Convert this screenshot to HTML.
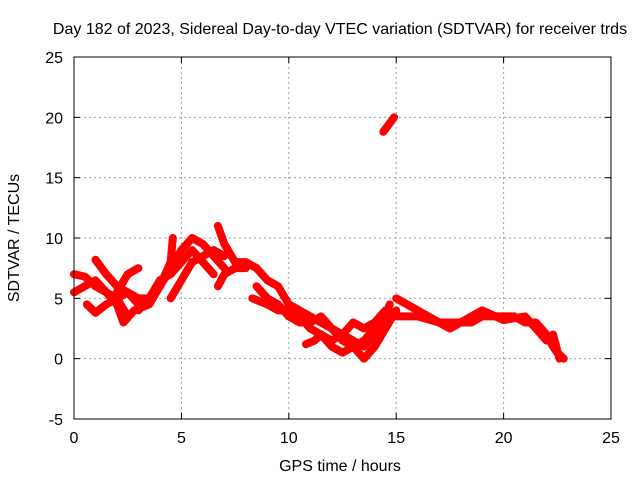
<!DOCTYPE html>
<html><head><meta charset="utf-8"><style>
body{margin:0;background:#fff}
svg text{font-family:"Liberation Sans",sans-serif;font-size:16px;fill:#000}
</style></head><body>
<svg width="640" height="480" id="c">
<rect width="640" height="480" fill="#fff"/>
<text x="340" y="34" text-anchor="middle">Day 182 of 2023, Sidereal Day-to-day VTEC variation (SDTVAR) for receiver trds</text>
<text x="340" y="471" text-anchor="middle">GPS time / hours</text>
<text transform="translate(19,238) rotate(-90)" text-anchor="middle">SDTVAR / TECUs</text>
<g id="grid"></g><g id="ticks"></g><g id="marks"></g>
<rect x="74" y="57" width="537" height="362" fill="none" stroke="#000" stroke-width="1"/>
</svg>
<script>
const xTicks=[0,5,10,15,20,25];
const yTicks=[-5,0,5,10,15,20,25];
const tracks=[
[[0,7],[0.5,6.8],[1,6],[1.5,5.5],[2,4.5],[2.3,3],[2.8,4],[3.5,4.5],[4,6],[4.5,8],[4.6,10]],
[[0,5.5],[0.5,6],[1,6.5],[1.5,5.5],[2,5],[2.5,5.5],[3,5],[3.5,5],[4,6.5],[4.5,7],[5,8],[5.5,9],[6,8],[6.5,7]],
[[1,8.2],[1.5,7],[2,6],[2.5,5.5],[3,4.5]],
[[2,5.5],[2.5,7],[3,7.5]],
[[0.6,4.5],[1,3.8],[1.5,4.5],[2,5],[2.5,3.5]],
[[3,4],[3.5,5],[4,6],[4.5,7.5],[5,9],[5.5,10],[6,9.5],[6.5,8.5],[7,7.5]],
[[4.5,5],[5,6.5],[5.5,8],[6,8.5],[6.5,9],[7,8.5]],
[[6.7,11],[7,9.5],[7.5,8],[8,8],[8.5,7.5],[9,6.5],[9.5,6],[10,4.5],[10.5,4],[11,3.5],[11.5,3],[12,2.5],[12.5,2],[13,1.5],[13.5,1],[14,2],[14.5,3.5],[14.7,4.5]],
[[6.7,6],[7,7],[7.5,7.5],[8,7.5]],
[[8.5,6],[9,5],[9.5,4.5],[10,3.5],[10.5,3],[11,3],[11.5,3.5],[12,2.5],[12.5,1.5],[13,1],[13.5,0],[14,1],[14.5,2.5],[15,4]],
[[8.3,5],[9,4.5],[9.5,4],[10,4],[10.5,3.5],[11,2.5],[11.5,2],[12,1],[12.5,0.5],[13,1],[13.5,1.5],[14,2.5]],
[[10.8,1.2],[11.2,1.5],[11.5,2],[12,1.5],[12.5,2],[13,3],[13.5,2.5],[14,3],[14.5,4]],
[[14.4,18.8],[14.9,20]],
[[15,5],[15.5,4.5],[16,4],[16.5,3.5],[17,3],[17.5,2.5],[18,3],[18.5,3],[19,3.5],[19.5,3.5],[20,3.5],[20.5,3.5],[21,3],[21.5,3],[22,2],[22.3,1],[22.5,0.5],[22.8,0]],
[[15,3.5],[15.5,3.5],[16,3.5],[17,3],[18,3],[19,4],[20,3.2],[21,3.5],[21.5,2.5],[22,1.5],[22.3,2],[22.6,0]]
];
const X=t=>74+t*537/25, Y=v=>419-(v+5)*362/30;
const NS="http://www.w3.org/2000/svg";
const g=document.getElementById('grid'),tk=document.getElementById('ticks'),mk=document.getElementById('marks');
function mkEl(n,a,p){const e=document.createElementNS(NS,n);for(const k in a)e.setAttribute(k,a[k]);p.appendChild(e);return e;}
xTicks.forEach(t=>{const x=X(t);
 if(t>0&&t<25){const l=mkEl('line',{x1:x,x2:x,y1:57,y2:419,stroke:'#a0a0a0','stroke-dasharray':'2,3'},g);
 
 }
 mkEl('line',{x1:x,x2:x,y1:419,y2:413,stroke:'#000'},tk);mkEl('line',{x1:x,x2:x,y1:57,y2:63,stroke:'#000'},tk);
 const s=mkEl('text',{x:x,y:443,'text-anchor':'middle'},tk);s.textContent=t;
 
 });
yTicks.forEach(v=>{const y=Y(v);
 if(v>-5&&v<25){const l=mkEl('line',{x1:74,x2:611,y1:y,y2:y,stroke:'#a0a0a0','stroke-dasharray':'2,3'},g);
 
 }
 mkEl('line',{x1:74,x2:80,y1:y,y2:y,stroke:'#000'},tk);mkEl('line',{x1:611,x2:605,y1:y,y2:y,stroke:'#000'},tk);
 const s=mkEl('text',{x:63,y:y+6,'text-anchor':'end'},tk);s.textContent=v;
 
 });
tracks.forEach(tr=>{
 const p=mkEl('polyline',{points:tr.map(d=>X(d[0])+','+Y(d[1])).join(' '),fill:'none',stroke:'#f00','stroke-width':8,'stroke-linejoin':'round','stroke-linecap':'round'},mk);
 
 
});
</script>
</body></html>
